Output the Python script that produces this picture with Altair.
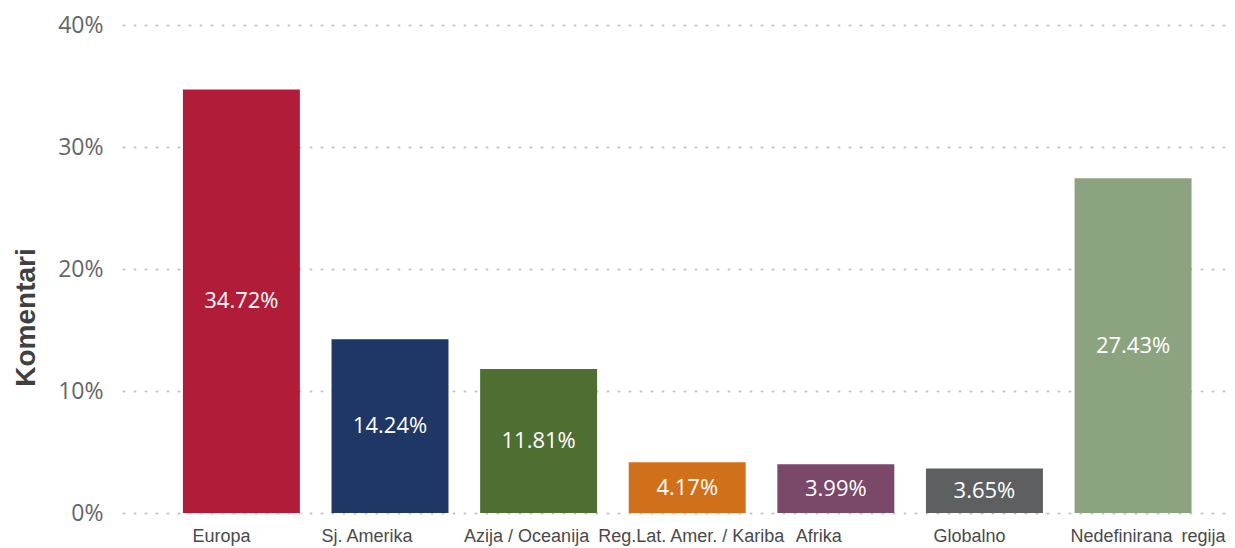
import altair as alt
import pandas as pd

categories = ["Europa", "Sj. Amerika", "Azija / Oceanija", "Reg.Lat. Amer. / Kariba",
              "Afrika", "Globalno", "Nedefinirana\u2002regija"]
values = [0.3472, 0.1424, 0.1181, 0.0417, 0.0399, 0.0365, 0.2743]
colors = ["#B11C38", "#1E3764", "#4F6F32", "#D0701A", "#7A4869", "#5E5F61", "#8CA37F"]
y_ticks = [0, 0.1, 0.2, 0.3, 0.4]

# horizontal nudges of the category labels (style only)
label_nudge = {categories[0]: -20, categories[1]: -23, categories[2]: -12, categories[3]: 4,
               categories[4]: -17, categories[5]: -15, categories[6]: 15}

df = pd.DataFrame({"region": categories, "value": values})

offset_cond = {
    "condition": [{"test": f"datum.value === '{k}'", "value": v} for k, v in label_nudge.items()],
    "value": 0,
}

x_enc = alt.X(
    "region:N",
    sort=categories,
    scale=alt.Scale(paddingInner=0.213, paddingOuter=0.331, align=0.609),
    axis=alt.Axis(
        title=None, labelAngle=0, domain=False, ticks=False, labelPadding=14,
        labelFont="Liberation Sans", labelFontSize=18, labelColor="#4a4a4a",
        labelOverlap=False, labelLimit=300, grid=False, labelOffset=offset_cond,
    ),
)

bars = alt.Chart(df).mark_bar().encode(
    x=x_enc,
    y=alt.Y(
        "value:Q",
        scale=alt.Scale(domain=[0, 0.4], nice=False),
        axis=alt.Axis(
            values=y_ticks, format=".0%", title="Komentari", domain=False, ticks=False,
            labelPadding=20, labelFont="Open Sans", labelFontSize=23, labelColor="#666666",
            grid=True, gridDash=[1, 10], gridWidth=2, gridCap="round", gridColor="#c4c4c4",
            titleFont="Liberation Sans", titleFontSize=28, titleFontWeight="bold",
            titleColor="#404040", titleX=-97, titleY=292, titleAngle=270,
            titleBaseline="middle", titleAlign="center",
        ),
    ),
    color=alt.Color("region:N", sort=categories,
                    scale=alt.Scale(domain=categories, range=colors), legend=None),
)

labels = alt.Chart(df).transform_calculate(mid="datum.value / 2").mark_text(
    color="white", font="Open Sans", fontSize=22, baseline="middle", align="center"
).encode(
    x=alt.X("region:N", sort=categories),
    y=alt.Y("mid:Q"),
    text=alt.Text("value:Q", format=".2%"),
)

chart = alt.layer(bars, labels).properties(
    width=1107, height=488,
    background="white",
    autosize=alt.AutoSizeParams(type="none"),
    padding={"left": 123, "top": 25, "right": 5, "bottom": 35},
).configure_view(stroke=None)

chart.save("out.html", embed_options={"renderer": "svg", "actions": False})
